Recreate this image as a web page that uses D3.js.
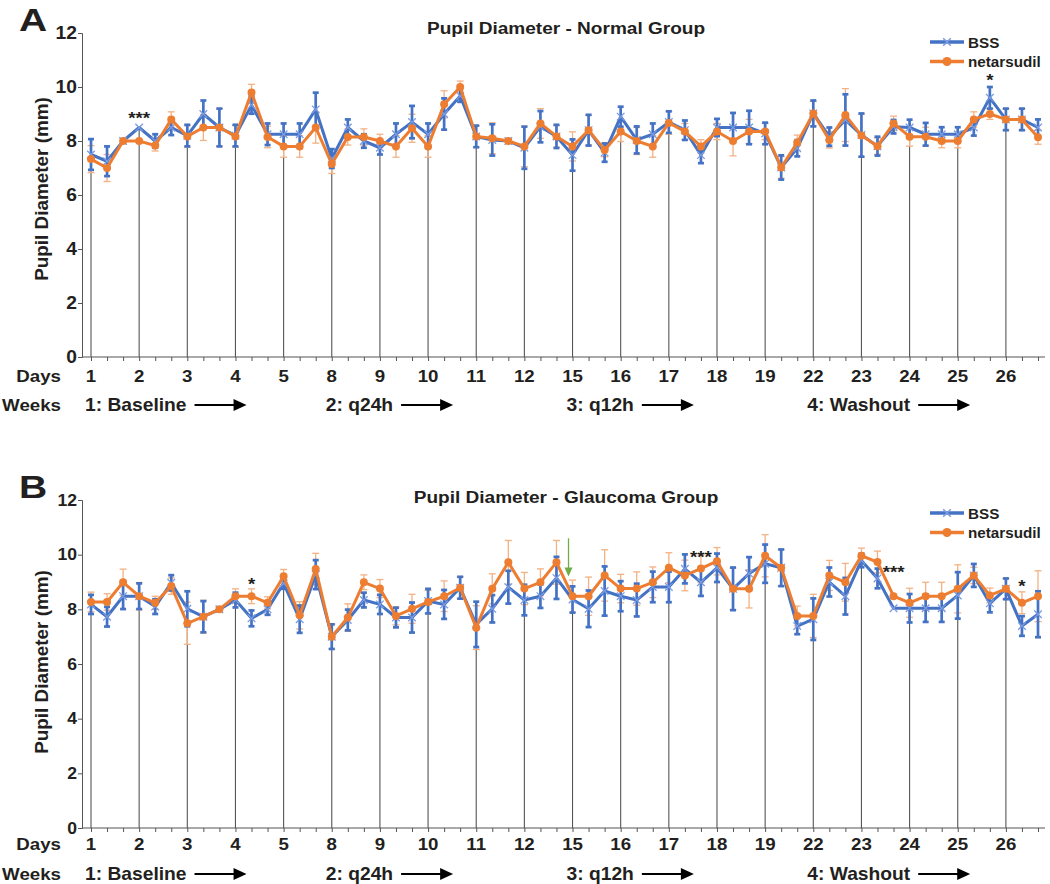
<!DOCTYPE html>
<html>
<head>
<meta charset="utf-8">
<script src="https://cdn.jsdelivr.net/npm/d3@7"></script>
<style>
  html, body { margin: 0; padding: 0; background: #fff; }
  svg { display: block; }
  text { font-family: "Liberation Sans", Arial, sans-serif; font-weight: bold; fill: #231f20; }
</style>
</head>
<body>
<svg id="chart" width="1050" height="884"></svg>
<script>
// ---------------- DATA ----------------
const days = ["1","2","3","4","5","8","9","10","11","12","15","16","17","18","19","22","23","24","25","26"];
const weeks = ["1: Baseline","2: q24h","3: q12h","4: Washout"];
const weekStartIndex = [0, 15, 30, 45];
const yTicks = [0, 2, 4, 6, 8, 10, 12];
const seriesNames = ["BSS", "netarsudil"];

const normalBSS = [7.5,7.25,8.0,8.5,8.0,8.5,8.2,9.0,8.5,8.2,
  9.33,8.25,8.25,8.25,9.17,7.35,8.5,8.0,7.75,8.25,
  8.7,8.25,9.0,9.67,8.17,8.04,8.0,7.75,8.53,8.17,
  7.48,8.4,7.57,8.9,8.04,8.25,8.7,8.4,7.48,8.5,
  8.5,8.5,8.28,7.02,7.73,9.02,8.16,8.78,8.22,7.81,
  8.53,8.5,8.25,8.25,8.25,8.5,9.6,8.8,8.8,8.5];
const normalNet = [7.33,7.0,8.0,8.0,7.83,8.8,8.17,8.5,8.5,8.17,
  9.8,8.15,7.8,7.8,8.5,7.15,8.15,8.15,8.0,7.8,
  8.47,7.8,9.36,10.0,8.17,8.1,8.0,7.8,8.65,8.17,
  7.8,8.4,7.67,8.35,8.0,7.8,8.67,8.35,7.8,8.35,
  8.0,8.35,8.35,7.02,7.94,9.02,8.04,8.96,8.2,7.81,
  8.65,8.16,8.16,8.0,8.0,8.8,9.0,8.8,8.8,8.14];
const normalBSSErr = [.57,.55,0,0,.25,.28,.4,.5,.7,.4,
  .32,.4,.4,.4,.62,.35,.3,.25,.25,.4,
  .6,.4,.58,.22,.4,.58,0,.78,.58,.43,
  .58,.57,.34,.37,.5,.4,.4,.36,.3,.32,
  .54,.62,.4,.45,.3,.48,.34,.95,.8,.35,
  .25,.29,.42,.26,.26,.3,.4,.4,.4,.3];
const normalNetErr = [.5,.5,0,0,.2,.28,.4,.48,.7,.4,
  .3,.4,.4,.4,.58,.35,.3,.3,.25,.4,
  .52,.4,.5,.22,.4,.57,0,.75,.55,.4,
  .54,.55,.25,.37,.5,.4,.42,.3,.25,.3,
  .55,.45,.3,.4,.28,.45,.3,.98,.8,.3,
  .27,.35,.35,.25,.25,.28,.2,.4,.4,.26];

const glaucomaBSS = [8.18,7.73,8.48,8.48,8.1,8.97,8.02,7.73,8.0,8.34,
  7.67,8.0,8.95,7.64,9.27,7.0,7.61,8.34,8.18,7.7,
  7.7,8.3,8.18,8.79,7.45,8.02,8.81,8.34,8.48,9.15,
  8.36,8.02,8.67,8.48,8.34,8.82,8.82,9.48,8.99,9.52,
  8.75,9.31,9.67,9.52,7.39,7.64,9.0,8.48,9.79,9.13,
  8.04,8.04,8.04,8.04,8.51,9.24,8.22,8.75,7.39,7.82];
const glaucomaNet = [8.27,8.27,8.99,8.48,8.24,8.85,7.49,7.73,8.0,8.48,
  8.48,8.24,9.21,7.78,9.48,7.0,7.7,8.99,8.76,7.76,
  8.02,8.27,8.48,8.79,7.33,8.75,9.72,8.76,8.99,9.72,
  8.48,8.48,9.24,8.76,8.76,8.99,9.52,9.24,9.49,9.76,
  8.75,8.75,9.96,9.52,7.76,7.76,9.24,8.99,9.96,9.73,
  8.48,8.24,8.48,8.48,8.75,9.24,8.51,8.75,8.24,8.48];
const glaucomaBSSErr = [.35,.36,.47,.47,.27,.28,.64,.57,0,.27,
  .29,.2,.2,.5,.53,.45,.38,.27,.35,.36,
  .55,.45,.53,.4,.83,.5,.6,.56,.43,.77,
  .48,.67,.9,.55,.6,.56,.56,.53,.5,.52,
  .78,.6,.7,.67,.3,.76,.53,.67,.25,.36,
  0,.52,.5,.5,.85,.42,.33,.38,.36,.84];
const glaucomaNetErr = [.36,.3,.48,.5,.24,.3,.77,.6,0,.27,
  .27,.22,.25,.5,.57,.45,.5,.27,.33,.33,
  .53,.42,.56,.4,.8,.55,.8,.59,.49,.8,
  .59,.7,.94,.52,.61,.56,.55,.56,.5,.5,
  .76,.7,.77,.67,.36,.79,.55,.69,.28,.4,
  0,.53,.51,.51,.88,.3,.27,.38,.4,.93];

// significance marks: point index, label, level (mm) of the mark
const normalStarIndex = [3, 56];
const normalStarText = ["***", "*"];
const normalStarLevel = [9.0, 10.4];
const glaucomaStarIndex = [10, 38, 50, 58];
const glaucomaStarText = ["*", "***", "***", "*"];
const glaucomaStarLevel = [9.04, 10.06, 9.48, 9.0];

// ---------------- DRAWING ----------------
const svg = d3.select("#chart");
const SX = 1.1;               // horizontal text stretch of the original figure
const nPts = normalBSS.length;
const x = d3.scaleLinear().domain([0, nPts - 1]).range([91, 1038]);
const BLUE = "#4472C4", BLUE_M = "#7b9be0", ORANGE = "#ED7D31", ORANGE_E = "#F4B183", GRAY = "#555555";

function stext(g, px, py, s, size, anchor, sx) {
  const t = g.append("text")
    .attr("transform", `translate(${px},${py}) scale(${sx === undefined ? SX : sx},1)`)
    .attr("font-size", size)
    .attr("text-anchor", anchor || "start")
    .text(s);
  return t;
}

function drawPanel(cfg) {
  const g = svg.append("g");
  const y = d3.scaleLinear().domain([0, 12]).range([cfg.y0, cfg.y12]);

  // panel letter & title
  stext(g, 19, cfg.letterY, cfg.letter, 32, "start", 1.22);
  stext(g, 566, cfg.titleY, cfg.title, 16, "middle", 1.19);

  // y axis title
  g.append("text")
    .attr("transform", `translate(48,${cfg.yTitleC}) rotate(-90) scale(1.08,1)`)
    .attr("font-size", 17.5).attr("text-anchor", "middle")
    .text("Pupil Diameter (mm)");

  // y axis
  const yAxis = d3.axisLeft(y).tickValues(yTicks).tickSize(4).tickPadding(3).tickFormat(d3.format("d"));
  const ya = g.append("g").attr("transform", "translate(82,0)").call(yAxis);
  ya.select(".domain").attr("stroke", GRAY);
  ya.selectAll(".tick line").attr("stroke", GRAY);
  ya.selectAll(".tick text").remove();
  yTicks.forEach(v => stext(g, 77, y(v) + cfg.tickSize * 0.36, String(v), cfg.tickSize, "end"));

  // x axis (category ticks at every time point)
  const xa = g.append("g").attr("transform", `translate(0,${cfg.y0})`)
    .call(d3.axisBottom(x).tickValues(d3.range(nPts)).tickSize(4).tickFormat(""));
  xa.select(".domain").remove();
  xa.selectAll(".tick line").attr("stroke", GRAY);
  g.append("line").attr("x1", 82).attr("x2", 1045).attr("y1", cfg.y0).attr("y2", cfg.y0)
    .attr("stroke", GRAY).attr("stroke-width", 1.2);

  // drop lines at each day
  days.forEach((d, k) => {
    const i = k * 3;
    g.append("line").attr("x1", x(i)).attr("x2", x(i))
      .attr("y1", cfg.y0).attr("y2", y(Math.max(cfg.bss[i], cfg.net[i])))
      .attr("stroke", GRAY).attr("stroke-width", 1.1);
  });

  // day labels
  stext(g, 61, cfg.daysY, "Days", 17, "end");
  days.forEach((d, k) => stext(g, x(k * 3), cfg.daysY, d, 17, "middle"));

  // week labels with arrows
  stext(g, 61, cfg.weeksY, "Weeks", 17, "end");
  weeks.forEach((w, k) => {
    const sx0 = x(weekStartIndex[k]) - 6;
    const t = stext(g, sx0, cfg.weeksY, w, 17.5, "start");
    const wdt = t.node().getComputedTextLength() * SX;
    const a0 = sx0 + wdt + 8, a1 = a0 + 52, ay = cfg.weeksY - 6;
    g.append("line").attr("x1", a0).attr("x2", a1 - 12).attr("y1", ay).attr("y2", ay)
      .attr("stroke", "#000").attr("stroke-width", 2);
    g.append("path").attr("d", `M${a1 - 13},${ay - 6}L${a1},${ay}L${a1 - 13},${ay + 6}Z`).attr("fill", "#000");
  });

  // error bars
  function errBars(vals, errs, color, w, cap) {
    const eg = g.append("g").attr("stroke", color).attr("stroke-width", w).attr("fill", "none");
    vals.forEach((v, i) => {
      const e = errs[i];
      if (!e) return;
      const xi = x(i), yt = y(v + e), yb = y(v - e);
      eg.append("line").attr("x1", xi).attr("x2", xi).attr("y1", yt).attr("y2", yb);
      eg.append("line").attr("x1", xi - cap).attr("x2", xi + cap).attr("y1", yt).attr("y2", yt);
      eg.append("line").attr("x1", xi - cap).attr("x2", xi + cap).attr("y1", yb).attr("y2", yb);
    });
  }
  errBars(cfg.net, cfg.netErr, ORANGE_E, 1.3, 3.5);
  errBars(cfg.bss, cfg.bssErr, BLUE, 2.7, 3);

  const line = d3.line().x((d, i) => x(i)).y(d => y(d));
  // BSS
  g.append("path").datum(cfg.bss).attr("d", line).attr("fill", "none")
    .attr("stroke", BLUE).attr("stroke-width", 3).attr("stroke-linejoin", "round");
  const cross = "M-3.8,-3.8L3.8,3.8M-3.8,3.8L3.8,-3.8";
  g.append("g").selectAll("path").data(cfg.bss).join("path")
    .attr("transform", (d, i) => `translate(${x(i)},${y(d)})`)
    .attr("d", cross).attr("stroke", BLUE_M).attr("stroke-width", 1.3).attr("fill", "none");
  // netarsudil
  g.append("path").datum(cfg.net).attr("d", line).attr("fill", "none")
    .attr("stroke", ORANGE).attr("stroke-width", 3).attr("stroke-linejoin", "round");
  g.append("g").selectAll("circle").data(cfg.net).join("circle")
    .attr("cx", (d, i) => x(i)).attr("cy", d => y(d)).attr("r", 4).attr("fill", ORANGE);

  // significance marks
  cfg.starIndex.forEach((i, k) => {
    stext(g, x(i), y(cfg.starLevel[k]) + 9.5, cfg.starText[k], 17, "middle", 1.1);
  });

  // legend
  const lx0 = 930, lx1 = 964;
  seriesNames.forEach((n, k) => {
    const ly = cfg.legendY + k * 19.5;
    const col = k === 0 ? BLUE : ORANGE;
    g.append("line").attr("x1", lx0).attr("x2", lx1).attr("y1", ly).attr("y2", ly)
      .attr("stroke", col).attr("stroke-width", 3.5);
    if (k === 0) {
      g.append("path").attr("transform", `translate(${(lx0 + lx1) / 2},${ly})`).attr("d", cross)
        .attr("stroke", BLUE_M).attr("stroke-width", 1.5).attr("fill", "none");
    } else {
      g.append("circle").attr("cx", (lx0 + lx1) / 2).attr("cy", ly).attr("r", 4.5).attr("fill", ORANGE);
    }
    stext(g, 968, ly + 5.5, n, 14.5, "start", 1.05);
  });

  return { g, y };
}

drawPanel({
  letter: "A", letterY: 31, title: "Pupil Diameter - Normal Group", titleY: 34,
  y0: 357, y12: 33, yTitleC: 189, tickSize: 17.5,
  daysY: 382, weeksY: 411,
  bss: normalBSS, net: normalNet, bssErr: normalBSSErr, netErr: normalNetErr,
  starIndex: normalStarIndex, starText: normalStarText, starLevel: normalStarLevel,
  legendY: 42
});

const pB = drawPanel({
  letter: "B", letterY: 498, title: "Pupil Diameter - Glaucoma Group", titleY: 503,
  y0: 828, y12: 500, yTitleC: 662, tickSize: 16,
  daysY: 850, weeksY: 880,
  bss: glaucomaBSS, net: glaucomaNet, bssErr: glaucomaBSSErr, netErr: glaucomaNetErr,
  starIndex: glaucomaStarIndex, starText: glaucomaStarText, starLevel: glaucomaStarLevel,
  legendY: 513
});

// green arrow marker in panel B (between points 29 and 30)
(function () {
  const ax = x(29.75), yTop = pB.y(10.6), yBot = pB.y(9.2);
  pB.g.append("line").attr("x1", ax).attr("x2", ax).attr("y1", yTop).attr("y2", yBot - 8)
    .attr("stroke", "#70AD47").attr("stroke-width", 1.3);
  pB.g.append("path").attr("d", `M${ax - 4},${yBot - 9}L${ax},${yBot}L${ax + 4},${yBot - 9}Z`)
    .attr("fill", "#70AD47");
})();
</script>
</body>
</html>
